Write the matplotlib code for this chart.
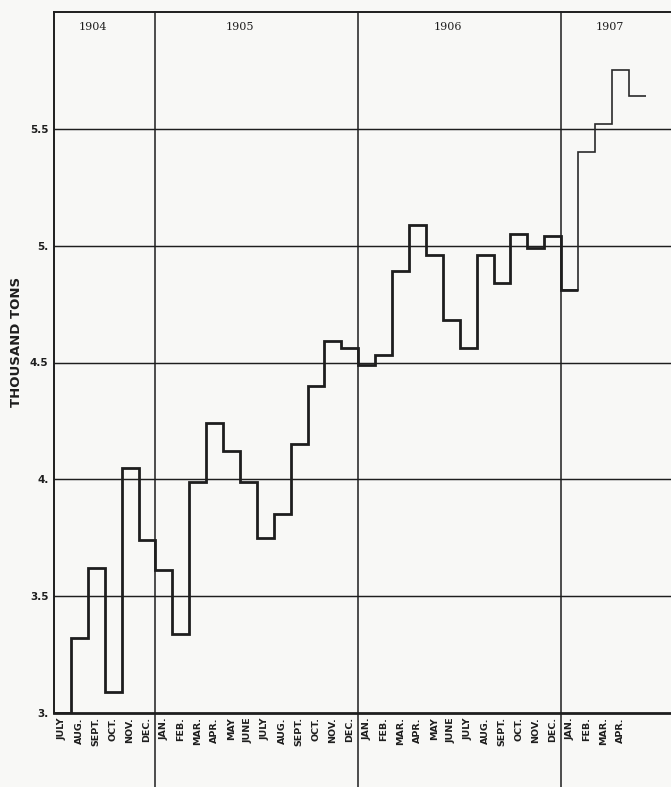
import numpy as np
import matplotlib
matplotlib.use("Agg")
import matplotlib.pyplot as plt

# ---- data (thousand tons, monthly, July 1904 - May 1907) ----
values_1904 = [3.00, 3.32, 3.62, 3.09, 4.05, 3.74]
values_1905 = [3.61, 3.34, 3.99, 4.24, 4.12, 3.99, 3.75, 3.85, 4.15, 4.40, 4.59, 4.56]
values_1906 = [4.49, 4.53, 4.89, 5.09, 4.96, 4.68, 4.56, 4.96, 4.84, 5.05, 4.99, 5.04]
values_1907 = [4.81, 5.40, 5.52, 5.75, 5.64]

months_1904 = ["JULY", "AUG.", "SEPT.", "OCT.", "NOV.", "DEC."]
months_full = ["JAN.", "FEB.", "MAR.", "APR.", "MAY", "JUNE",
               "JULY", "AUG.", "SEPT.", "OCT.", "NOV.", "DEC."]
months_1907 = ["JAN.", "FEB.", "MAR.", "APR."]
month_labels = months_1904 + months_full + months_full + months_1907

years = ["1904", "1905", "1906", "1907"]
year_label_x = [2.3, 11.0, 23.3, 32.9]
year_bounds = [6, 18, 30]

y_ticks = [3.0, 3.5, 4.0, 4.5, 5.0, 5.5]
y_ticklabels = ["3.", "3.5", "4.", "4.5", "5.", "5.5"]

values = np.array(values_1904 + values_1905 + values_1906 + values_1907)
edges = np.arange(len(values) + 1)

ink = "#1e1e1e"
bg = "#f8f8f6"

fig = plt.figure(figsize=(6.71, 7.87), dpi=100, facecolor=bg)
ax = fig.add_axes([54 / 671, 74 / 787, 1 - 54 / 671, (713 - 12) / 787])
ax.set_facecolor(bg)

ax.set_xlim(0, 36.5)
ax.set_ylim(3.0, 6.0)

# horizontal grid
for yv in y_ticks[1:]:
    ax.axhline(yv, color=ink, lw=1.05, zorder=1)

# year boundaries extend below the axis
for xb in year_bounds:
    ax.axvline(xb, ymin=-0.106, ymax=1, color=ink, lw=1.1, clip_on=False, zorder=1)

# step line
n_thick = len(values_1904) + len(values_1905) + len(values_1906) + 1
ax.stairs(values[n_thick - 1:], edges[n_thick - 1:], baseline=None,
          color="#2a2a2a", lw=1.2, zorder=2)
ax.stairs(values[:n_thick], edges[:n_thick + 1], baseline=None,
          color=ink, lw=2.0, zorder=3)

# spines
for s in ["left", "top"]:
    ax.spines[s].set_linewidth(1.4)
    ax.spines[s].set_color(ink)
ax.spines["bottom"].set_linewidth(2.0)
ax.spines["bottom"].set_color(ink)
ax.spines["right"].set_visible(False)

# y ticks
ax.set_yticks(y_ticks)
ax.set_yticklabels(y_ticklabels, fontsize=7.5, fontweight="bold", color=ink)
ax.tick_params(axis="y", length=0, pad=4)

# x month labels
ax.set_xticks(np.arange(len(month_labels)) + 0.5)
ax.set_xticklabels(month_labels, rotation=90, fontsize=6.8, fontweight="bold",
                   color=ink, va="top", ha="center",
                   family=["Liberation Sans Narrow", "DejaVu Sans"])
ax.tick_params(axis="x", length=0, pad=3)

# year labels
for yl, xl in zip(years, year_label_x):
    ax.text(xl, 5.935, yl, ha="center", va="center", fontsize=8,
            family="DejaVu Serif", color=ink)

fig.text(17 / 671, 1 - 342 / 787, "THOUSAND TONS", rotation=90, ha="center",
         va="center", fontsize=9.5, fontweight="bold", color=ink)

fig.savefig("out.png", dpi=100, facecolor=bg)
